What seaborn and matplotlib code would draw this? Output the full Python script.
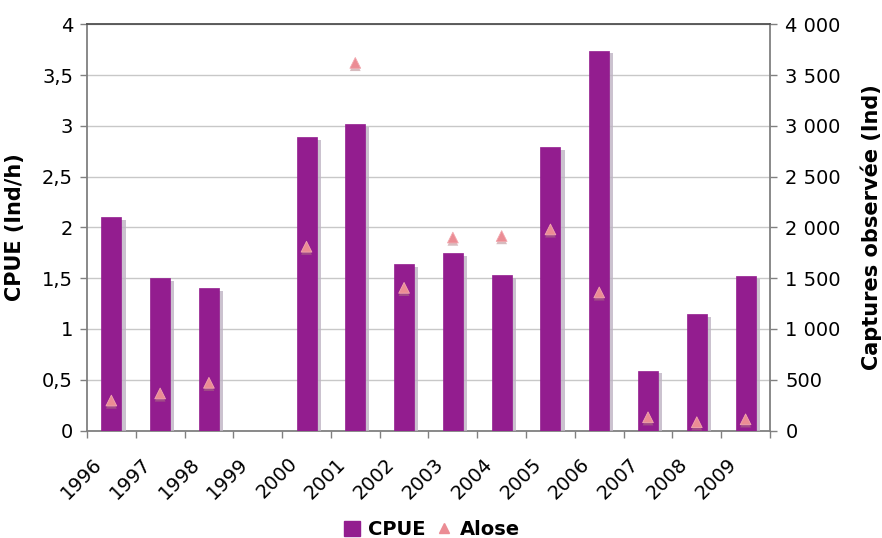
import matplotlib
matplotlib.use("Agg")
import matplotlib.pyplot as plt
import matplotlib.patheffects as pe
import matplotlib.transforms as mtransforms
from matplotlib.patches import Patch
from matplotlib.lines import Line2D
from matplotlib.ticker import FuncFormatter, MultipleLocator, FixedLocator
import seaborn as sns
import pandas as pd

# Annual series
years = ["1996", "1997", "1998", "1999", "2000", "2001", "2002",
         "2003", "2004", "2005", "2006", "2007", "2008", "2009"]
cpue = [2.10, 1.50, 1.40, 0.0, 2.89, 3.02, 1.64,
        1.75, 1.53, 2.79, 3.74, 0.59, 1.15, 1.52]
alose = [295, 365, 470, None, 1810, 3620, 1405,
         1900, 1915, 1980, 1360, 130, 82, 110]

df = pd.DataFrame({"annee": years, "cpue": cpue, "alose": alose})

sns.set_theme(style="white")
plt.rcParams["font.family"] = ["DejaVu Sans"]
plt.rcParams["text.color"] = "black"
plt.rcParams["axes.labelcolor"] = "black"
plt.rcParams["xtick.color"] = "black"
plt.rcParams["ytick.color"] = "black"

bar_color = "#931D8F"
tri_color = "#EB8C94"
axis_grey = "#808080"
tick_size = 14
label_size = 15

fig = plt.figure(figsize=(8.82, 5.38), dpi=100)
ax = fig.add_axes([0.0986, 0.1998, 0.7744, 0.755])

sns.barplot(data=df, x="annee", y="cpue", color=bar_color, width=0.41,
            saturation=1, ax=ax, zorder=3, edgecolor=bar_color, linewidth=0.5)
for p in ax.patches:
    p.set_path_effects([pe.SimplePatchShadow(offset=(3, -2), shadow_rgbFace="#BFB3C4",
                                             alpha=0.8), pe.Normal()])

ax.set_xlim(-0.5, len(years) - 0.5)
ax.set_ylim(0, 4)
ax.yaxis.set_major_locator(MultipleLocator(0.5))
ax.yaxis.set_major_formatter(FuncFormatter(
    lambda v, _: ("%g" % v).replace(".", ",")))
ax.grid(axis="y", color="#C8C8C8", linewidth=1, zorder=0)
ax.set_axisbelow(True)

# category boundaries carry the tick marks, labels sit under each bar
ax.xaxis.set_minor_locator(FixedLocator([i - 0.5 for i in range(len(years) + 1)]))
ax.tick_params(axis="x", which="major", length=0, pad=17, labelsize=tick_size,
               labelcolor="black")
ax.tick_params(axis="x", which="minor", length=5, color=axis_grey, width=1, bottom=True)
shift = mtransforms.ScaledTranslation(-0.19, 0, fig.dpi_scale_trans)
for lab in ax.get_xticklabels():
    lab.set_rotation(45)
    lab.set_ha("right")
    lab.set_va("top")
    lab.set_rotation_mode("anchor")
    lab.set_transform(lab.get_transform() + shift)
ax.tick_params(axis="y", length=5, color=axis_grey, width=1, labelsize=tick_size,
               left=True, pad=5, labelcolor="black")
ax.set_xlabel("")
ax.set_ylabel("CPUE (Ind/h)", fontsize=label_size, fontweight="bold", labelpad=12)

for s in ["left", "right", "bottom", "top"]:
    ax.spines[s].set_visible(True)
    ax.spines[s].set_color(axis_grey)
    ax.spines[s].set_linewidth(1.3)
ax.spines["top"].set_color("#505050")

ax2 = ax.twinx()
sns.scatterplot(data=df, x="annee", y="alose", marker="^", s=60, color=tri_color,
                edgecolor="#F2A7AE", linewidth=0.6, ax=ax2, zorder=5,
                legend=False)
for coll in ax2.collections:
    coll.set_path_effects([pe.SimplePatchShadow(offset=(0, -2), shadow_rgbFace="#B07A80",
                                                alpha=0.5), pe.Normal()])
ax2.set_ylim(0, 4000)
ax2.yaxis.set_major_locator(MultipleLocator(500))
ax2.yaxis.set_major_formatter(FuncFormatter(
    lambda v, _: f"{int(v):,}".replace(",", " ")))
ax2.tick_params(axis="y", length=5, color=axis_grey, width=1, labelsize=tick_size,
                right=True, pad=6, labelcolor="black")
ax2.set_ylabel("Captures observée (Ind)", fontsize=label_size, fontweight="bold",
               labelpad=14)
ax2.set_xlim(-0.5, len(years) - 0.5)
for s in ["left", "right", "bottom", "top"]:
    ax2.spines[s].set_visible(False)

handles = [
    Patch(facecolor=bar_color, edgecolor=bar_color),
    Line2D([], [], marker="^", linestyle="none", markersize=7,
           markerfacecolor=tri_color, markeredgecolor=tri_color),
]
fig.legend(handles, ["CPUE", "Alose"], loc="center", bbox_to_anchor=(0.49, 0.015),
           ncol=2, frameon=False, prop={"weight": "bold", "size": tick_size},
           handlelength=0.8, handleheight=0.8, handletextpad=0.4, columnspacing=0.6)

fig.savefig("out.png", dpi=100)
